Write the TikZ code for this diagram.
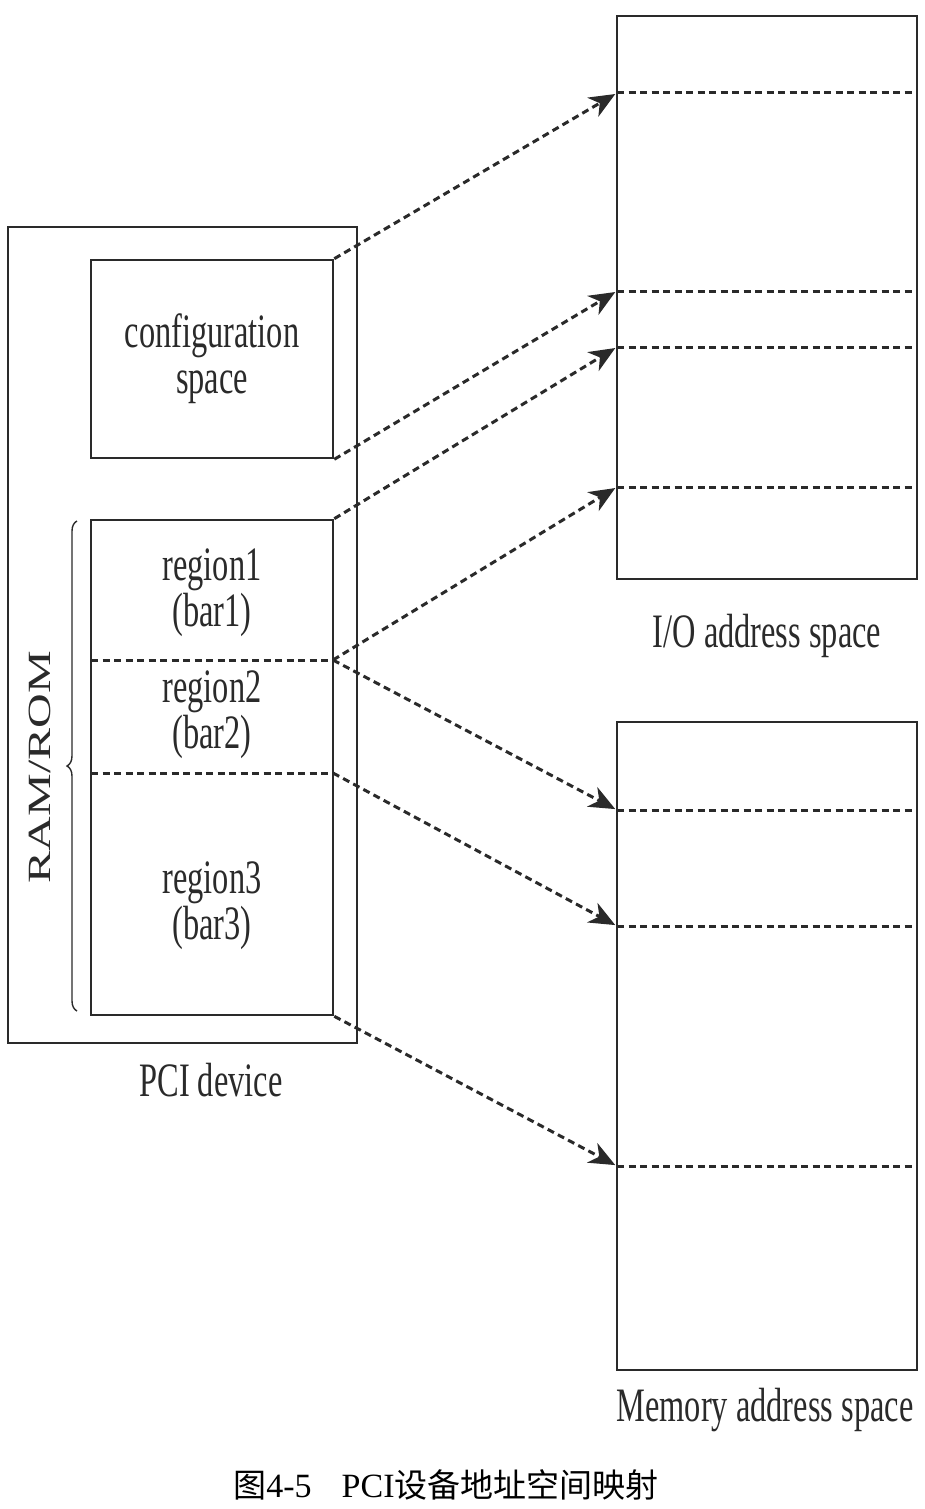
\documentclass[tikz,border=0pt]{standalone}
\usepackage{fontspec}
\setmainfont[FakeStretch=0.675]{Liberation Serif}
\newfontfamily\capfont{Liberation Serif}
\newfontfamily\cjk{Noto Sans CJK SC}
\usepackage{graphicx}
\usetikzlibrary{arrows.meta,decorations.pathreplacing}
\definecolor{ink}{HTML}{2A2A2A}
\newcommand{\lblfont}{\fontsize{48}{46}\selectfont}
\newcommand{\cjkcap}{\cjk\fontsize{33}{36}\selectfont}

\begin{document}
\begin{tikzpicture}[x=1pt, y=-1pt,
      box/.style={draw=ink, line width=2.6pt, inner sep=0pt, align=center, font=\lblfont, text=ink},
      txt/.style={align=center, font=\lblfont, text=ink, inner sep=0pt},
      divider/.style={draw=ink, line width=3pt, dash pattern=on 7pt off 4.5pt},
      arr/.style={divider, shorten >=2pt, -{Stealth[length=26pt, width=22pt, inset=8pt]}}]
    \useasboundingbox (0,0) rectangle (924,1509);
    % PCI device
    \node[box, minimum width=349pt, minimum height=816pt] (dev) at (182.5,635) {};
    \node[box, minimum width=242pt, minimum height=198pt] (cfg) at (212,359) {configuration\\space};
    \node[box, minimum width=242pt, minimum height=495pt] (bars) at (212,767.5) {};
    \coordinate (r12) at (333,660); \coordinate (r23) at (333,773);
    \draw[divider] (91,660) -- (r12);
    \draw[divider] (91,773) -- (r23);
    \node[txt] (reg1) at (212,593) {region1\\(bar1)};
    \node[txt] (reg2) at (212,715) {region2\\(bar2)};
    \node[txt] (reg3) at (212,906) {region3\\(bar3)};
    \draw[ink, line width=1.4pt, decorate, decoration={brace, amplitude=10pt}] (77,1011) -- (77,521);
    \node[rotate=90, font=\capfont\lblfont, text=ink, inner sep=0pt] (ram) at (40,767) {\scalebox{1}[0.675]{RAM/ROM}};
    \node[txt] (devlbl) at (211,1080) {PCI device};
    % address spaces
    \node[box, minimum width=300pt, minimum height=563pt] (io) at (767,297.5) {};
    \node[box, minimum width=300pt, minimum height=648pt] (mem) at (767,1046) {};
    \foreach \n/\y in {io1/93, io2/291, io3/347, io4/487, m1/810, m2/926, m3/1166} {
      \coordinate (\n) at (617,\y);
      \draw[divider] (\n) -- (917,\y);
    }
    \node[txt] (iolbl) at (767,636) {I/O address space};
    \node[txt] (memlbl) at (765,1410) {Memory address space};
    % mappings
    \draw[arr] (cfg.north east) -- (io1);
    \draw[arr] (cfg.south east) -- (io2);
    \draw[arr] (bars.north east) -- (io3);
    \draw[arr] (r12) -- (io4);
    \draw[arr] (r12) -- (m1);
    \draw[arr] (r23) -- (m2);
    \draw[arr] (bars.south east) -- (m3);
    \node[font=\capfont\fontsize{34}{36}\selectfont, inner sep=0pt] (cap) at (446,1485)
      {{\cjkcap 图}4-5\hspace{30pt}PCI{\cjkcap 设备地址空间映射}};
  \end{tikzpicture}
\end{document}
